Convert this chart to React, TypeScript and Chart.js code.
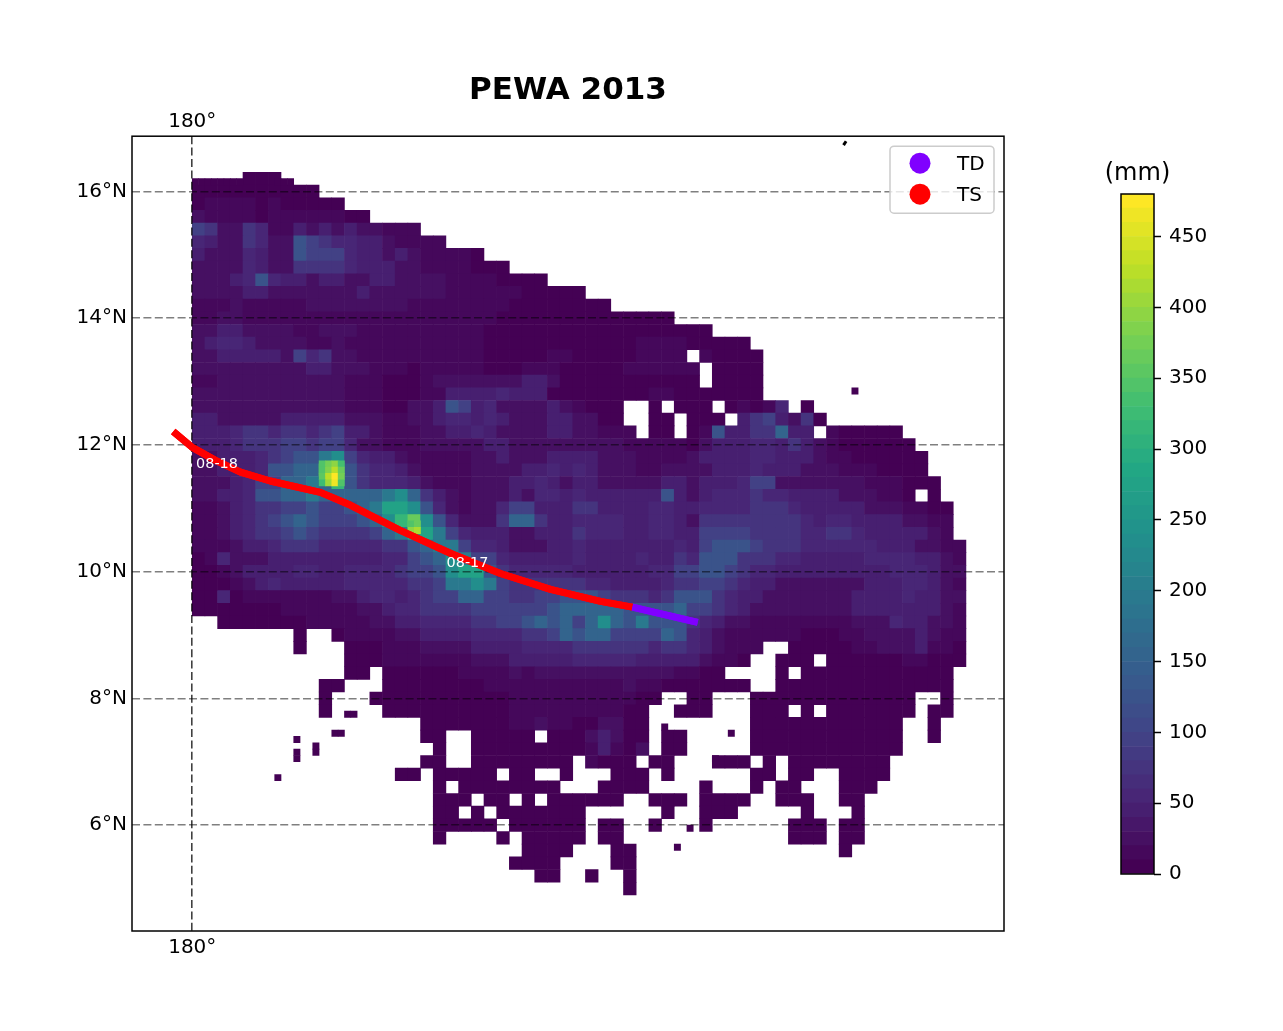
import React, { useEffect, useRef } from "react";
import { Chart, registerables } from "chart.js";

Chart.register(...registerables);

const FONT = "'DejaVu Sans'";
const TITLE = "PEWA 2013";
const UNIT = "(mm)";
const LON_MIN = 179.05;
const LON_MAX = 192.8;
const LAT_MIN = 4.33;
const LAT_MAX = 16.87;
const lonTicks = [180];
const latTicks = [6, 8, 10, 12, 14, 16];
const barTicks = [0, 50, 100, 150, 200, 250, 300, 350, 400, 450];
const barLevels = [0, 10, 20, 30, 40, 50, 60, 70, 80, 90, 100, 110, 120, 130, 140, 150, 160, 170, 180, 190, 200, 210, 220, 230, 240, 250, 260, 270, 280, 290, 300, 310, 320, 330, 340, 350, 360, 370, 380, 390, 400, 410, 420, 430, 440, 450, 460, 470, 480];
const viridisStops = ["#440154", "#482475", "#414487", "#355f8d", "#2a788e", "#21918c", "#22a884", "#44bf70", "#7ad151", "#bddf26", "#fde725"];

// rainfall classes used by the cell letters of gridRows (mm)
const classValues: Record<string, number> = { "0": 5, "1": 15, "2": 28, "3": 42, "4": 58, "5": 75, "6": 95, "7": 120, "8": 150, "9": 190, a: 230, b: 270, c: 310, d: 360, e: 410, f: 470 };

// cells of 0.2 degrees, first row centred on 16.2N, first column on 180.1E; "." = no data
const gridRows = [
  "....000...",
  "0000000000",
  "0111101000 00",
  "2111101111 1100",
  "6522541132 32322111",
  "4322542276 5443321111",
  "3222432276 6643323211 110",
  "2222432255 5543332211 11000",
  "2223474332 3322332222 11110000",
  "2222332222 2223222222 1111110000 0",
  "1112111112 2222222111 1111100000 000",
  "1122111111 1111111111 1111000000 00000000",
  "2233222211 2221111111 1110000000 0000000000 0",
  "2344322221 1211111111 1110000000 0000011110 0000",
  "2233333264 5221111111 1110000011 000001111. 10000",
  "2222222223 3222111011 1110001110 0000111111 .0000",
  "1122222222 2211100012 2222223320 0000000000 .0000",
  "2222222222 2211100011 3333433300 0000001100 00000",
  "2222222222 2211100223 7634222232 1000..0.00 0.01014.0",
  "3322222333 3322211223 4434322233 2200..00.0 00.3563250",
  "3334554554 5633211122 3343222233 22111.00.0 173355833. 100000",
  "3334555665 6642211122 2223322222 2222111110 2333443532 1000000",
  "2233345677 9a64332111 1122322233 3322211112 3333443332 11000000",
  "2233347788 dd75443211 1122223343 4322211222 2333433322 21110000",
  "2223466889 8c75444321 1122233432 3322222332 3334662222 222111000",
  "2233477889 888889a853 2122232443 4333333732 3444544333 3222110.0",
  "1123455667 66789bba74 2122466333 5533334433 4444555433 3332221100",
  "1123456787 66678acda7 4222588533 4444334432 5555555543 4433332211",
  "1123455676 5555689bb9 6433322333 5444334433 6666555544 5543333321",
  "1112334555 4444455789 9644322233 4333333343 6777655544 44443332211",
  "0142223333 3333344678 a966433333 4333343354 7775554433 33344443321",
  "0012333344 3344445667 abb7544444 3333334466 7765443333 33333444322",
  "0001234333 3344444556 99a9655555 5443333455 6654332222 22233344321",
  "0040111111 1223443456 6886655667 7765554577 7543322222 22333343322",
  "0000000111 1112234455 5566666678 8888777786 6543222222 22333333321",
  "..00000001 1111223344 4455667878 68a8797775 4322111111 11222433221",
  "........0. .011112233 3344445568 7886666874 3211111100 01122223211",
  "........0. ..00011122 2233334444 5555554554 32111..000 00112223110",
  ".......... ..00011111 1122233333 4444433333 2110..000. 00000011000",
  ".......... ..00.00000 0111121222 2222222211 00....0.00 0000000000",
  ".......... 00...00000 0001111111 1111211000 0000..0000 0000000000",
  ".......... 0...000000 0000011111 1111100..0 0...000000 0000000..0",
  ".......... 0....00000 0000011111 111100..00 0...000.0. 0000000.00",
  ".......... ........00 0000011211 002200.... ....000000 000000..0.",
  ".......... ........00 ..00000.00 023200.00. ....000000 000000..0.",
  ".......... .........0 ..00000000 013102.00. ....000000 000000",
  ".......... ........00 ..00000000 .1000.00.. .000.0.000 00000",
  ".......... ......00.0 0000.00..0 ...000.0.. ....00.00. .0000",
  ".......... .........0 .00000000. ..0000.... 0...0.00.. .000",
  ".......... .........0 00.00.0.00 0000..000. 0000..000. .00",
  ".......... .........0 0.0.000000 0......0.. 000.....0. ..0",
  ".......... .........0 0000.00000 0.00..0... 0......000 .00",
  ".......... .........0 ....0.0000 0.00...... .......000 .00",
  ".......... .......... ......0000 ...00..... .......... .0",
  ".......... .......... .....0000. ...00.....",
  ".......... .......... .......00. .0..0.....",
  ".......... .......... .......... ....0.....",
];

// finer 0.1-degree readings at the two rainfall peaks and small isolated patches: [lon, lat, mm]
const fineCells = [
  [182.05, 11.7, 340], [182.15, 11.7, 370], [182.25, 11.7, 390], [182.35, 11.7, 330],
  [182.05, 11.6, 340], [182.15, 11.6, 380], [182.25, 11.6, 420], [182.35, 11.6, 360],
  [182.05, 11.5, 350], [182.15, 11.5, 420], [182.25, 11.5, 470], [182.35, 11.5, 370],
  [182.05, 11.4, 320], [182.15, 11.4, 400], [182.25, 11.4, 460], [182.35, 11.4, 340],
  [183.45, 10.75, 340], [183.55, 10.75, 360], [183.45, 10.65, 390], [183.55, 10.65, 410],
  [181.35, 6.75, 5], [181.65, 7.35, 5], [181.65, 7.15, 5], [181.65, 7.05, 5],
  [181.95, 7.25, 5], [181.95, 7.15, 5], [182.25, 7.45, 5], [182.35, 7.45, 5],
  [182.45, 7.75, 5], [182.55, 7.75, 5], [190.45, 12.85, 5], [188.5, 7.45, 5],
  [187.45, 7.55, 5], [187.65, 5.65, 5], [187.85, 5.95, 5], [188.25, 7.05, 5],
  [180.05, 16.15, 5], [180.15, 16.15, 5], [180.25, 16.15, 5], [180.35, 16.15, 5],
  [180.45, 16.15, 5], [180.55, 16.15, 5], [180.65, 16.15, 5], [180.75, 16.15, 5],
  [181.35, 16.15, 5], [181.45, 16.15, 5], [181.55, 16.15, 5],
];

const tsLon = [179.7, 180.0, 180.36, 180.76, 181.23, 182.02, 182.49, 183.28, 184.07, 184.86, 185.65, 186.44, 186.94];
const tsLat = [12.21, 11.96, 11.76, 11.57, 11.43, 11.25, 11.05, 10.65, 10.29, 9.97, 9.72, 9.53, 9.44];
const tdLon = [186.94, 187.97];
const tdLat = [9.44, 9.2];
const coastLon = [190.27, 190.31];
const coastLat = [16.73, 16.79];
const dateLabels = ["08-18", "08-17"];
const dateLon = [180.39, 184.34];
const dateLat = [11.69, 10.13];
const legendLabels = ["TD", "TS"];
const legendColors = ["#8000ff", "#ff0000"];

function hexToRgb(h: string) {
  return [parseInt(h.slice(1, 3), 16), parseInt(h.slice(3, 5), 16), parseInt(h.slice(5, 7), 16)];
}
function viridis(t: number) {
  const p = Math.max(0, Math.min(1, t)) * (viridisStops.length - 1);
  const i = Math.min(Math.floor(p), viridisStops.length - 2);
  const a = hexToRgb(viridisStops[i]);
  const b = hexToRgb(viridisStops[i + 1]);
  const f = p - i;
  return `rgb(${a.map((v, k) => Math.round(v + (b[k] - v) * f)).join(",")})`;
}
function bandColor(mm: number) {
  const band = Math.min(47, Math.floor(mm / 10));
  return viridis(band / 47);
}

const cells: { x: number; y: number; v: number }[] = [];
gridRows.forEach((row, r) => {
  row.replace(/ /g, "").split("").forEach((ch, c) => {
    if (ch !== ".") cells.push({ x: 180.1 + 0.2 * c, y: 16.2 - 0.2 * r, v: classValues[ch] });
  });
});
const fine = fineCells.map(([x, y, v]) => ({ x, y, v }));
const zip = (xs: number[], ys: number[]) => xs.map((x, i) => ({ x, y: ys[i] }));

const cellRadius = (deg: number) => (ctx: any) => {
  const s = ctx.chart.scales.x;
  const side = Math.abs(s.getPixelForValue(180 + deg) - s.getPixelForValue(180));
  return (side / 2 + 0.3) / Math.SQRT1_2;
};

const fitWidth = (w: number) => (s: any) => { s.width = w; };
const fitHeight = (h: number) => (s: any) => { s.height = h; };

const framePlugin = {
  id: "frame",
  afterDraw(chart: any) {
    const { ctx, chartArea: a } = chart;
    ctx.save();
    ctx.beginPath();
    ctx.rect(a.left, a.top, a.right - a.left, a.bottom - a.top);
    ctx.clip();
    chart.data.datasets.forEach((d: any, i: number) => {
      if (d.onTop) chart.getDatasetMeta(i).controller.draw();
    });
    ctx.restore();
    const xs = chart.scales.x;
    const ys = chart.scales.y;
    ctx.save();
    ctx.fillStyle = "#ffffff";
    ctx.font = `14.4px ${FONT}`;
    ctx.textAlign = "center";
    ctx.textBaseline = "middle";
    dateLabels.forEach((t, i) => ctx.fillText(t, xs.getPixelForValue(dateLon[i]), ys.getPixelForValue(dateLat[i])));
    ctx.restore();
    // legend box
    ctx.save();
    const lx = a.right - 114, ly = a.top + 10, lw = 104, lh = 67;
    ctx.beginPath();
    ctx.roundRect(lx, ly, lw, lh, 4);
    ctx.fillStyle = "rgba(255,255,255,0.8)";
    ctx.fill();
    ctx.strokeStyle = "#cccccc";
    ctx.lineWidth = 1.5;
    ctx.stroke();
    legendLabels.forEach((t, i) => {
      const cy = ly + 17 + i * 31;
      ctx.beginPath();
      ctx.arc(lx + 30, cy, 10.5, 0, Math.PI * 2);
      ctx.fillStyle = legendColors[i];
      ctx.fill();
      ctx.fillStyle = "#000000";
      ctx.font = `20px ${FONT}`;
      ctx.textAlign = "left";
      ctx.textBaseline = "middle";
      ctx.fillText(t, lx + 67, cy + 2);
    });
    ctx.restore();
    ctx.save();
    ctx.strokeStyle = "#000000";
    ctx.lineWidth = 1.5;
    ctx.strokeRect(a.left, a.top, a.right - a.left, a.bottom - a.top);
    ctx.restore();
  },
};

const barFramePlugin = {
  id: "barFrame",
  afterDraw(chart: any) {
    const { ctx, chartArea: a } = chart;
    ctx.save();
    ctx.strokeStyle = "#000000";
    ctx.lineWidth = 1.5;
    ctx.strokeRect(a.left, a.top, a.right - a.left, a.bottom - a.top);
    ctx.fillStyle = "#000000";
    ctx.font = `24px ${FONT}`;
    ctx.textAlign = "center";
    ctx.textBaseline = "middle";
    ctx.fillText(UNIT, (a.left + a.right) / 2, a.top - 20);
    ctx.restore();
  },
};

export default function App() {
  const mainRef = useRef<HTMLCanvasElement>(null);
  const barRef = useRef<HTMLCanvasElement>(null);

  useEffect(() => {
    const tickFont = { family: FONT, size: 20 };
    const main = new Chart(mainRef.current!, {
      type: "scatter",
      data: {
        datasets: [
          { label: "TS", data: zip(tsLon, tsLat), showLine: true, borderColor: legendColors[1], borderWidth: 7, pointRadius: 0, order: 0, onTop: true, borderCapStyle: "butt", borderJoinStyle: "round" },
          { label: "TD", data: zip(tdLon, tdLat), showLine: true, borderColor: legendColors[0], borderWidth: 7, pointRadius: 0, order: 0, onTop: true, borderCapStyle: "butt" },
          { label: "coast", data: zip(coastLon, coastLat), showLine: true, borderColor: "#000000", borderWidth: 3, pointRadius: 0, order: 0 },
          { label: "fine", data: fine, pointStyle: "rect", pointRadius: cellRadius(0.1), pointBorderWidth: 0, borderWidth: 0, backgroundColor: (c: any) => bandColor(c.raw?.v ?? 0), order: 1 },
          { label: "rain", data: cells, pointStyle: "rect", pointRadius: cellRadius(0.2), pointBorderWidth: 0, borderWidth: 0, backgroundColor: (c: any) => bandColor(c.raw?.v ?? 0), order: 2 },
        ] as any,
      },
      options: {
        responsive: false,
        animation: false,
        events: [],
        layout: { padding: { left: 0, right: 279, top: 72, bottom: 60 } },
        plugins: {
          legend: { display: false },
          tooltip: { enabled: false },
          title: { display: true, text: TITLE, fullSize: false, color: "#000000", font: { family: FONT, size: 31, weight: "bold" }, padding: 0, align: "center" },
        },
        scales: {
          x: {
            type: "linear", min: LON_MIN, max: LON_MAX,
            afterBuildTicks: (s: any) => { s.ticks = lonTicks.map((value) => ({ value })); },
            afterFit: fitHeight(40),
            grid: { color: "rgba(0,0,0,0.75)", lineWidth: 1.6, z: 1, drawTicks: false },
            border: { display: false, dash: [8, 3.4] },
            ticks: { font: tickFont, color: "#000000", padding: 5, maxRotation: 0, autoSkip: false, callback: (v: any) => `${v}°` },
          },
          xTop: {
            type: "linear", position: "top", min: LON_MIN, max: LON_MAX,
            afterBuildTicks: (s: any) => { s.ticks = lonTicks.map((value) => ({ value })); },
            afterFit: fitHeight(27),
            grid: { display: false, drawTicks: false },
            border: { display: false },
            ticks: { font: tickFont, color: "#000000", padding: 2, maxRotation: 0, autoSkip: false, callback: (v: any) => `${v}°` },
          },
          y: {
            type: "linear", min: LAT_MIN, max: LAT_MAX,
            afterBuildTicks: (s: any) => { s.ticks = latTicks.map((value) => ({ value })); },
            afterFit: fitWidth(132),
            grid: { color: "rgba(0,0,0,0.5)", lineWidth: 1.6, z: 1, drawTicks: false },
            border: { display: false, dash: [8, 3.4] },
            ticks: { font: tickFont, color: "#000000", padding: 5, autoSkip: false, callback: (v: any) => `${v}°N` },
          },
        },
      } as any,
      plugins: [framePlugin],
    });

    const barData = barLevels.slice(0, -1).map((lo, i) => ({
      data: [[lo, barLevels[i + 1]]],
      backgroundColor: viridis(i / (barLevels.length - 2)),
      borderWidth: 0,
      barPercentage: 1,
      categoryPercentage: 1,
      grouped: false,
    }));
    const bar = new Chart(barRef.current!, {
      type: "bar",
      data: { labels: [""], datasets: barData as any },
      options: {
        responsive: false,
        animation: false,
        events: [],
        layout: { padding: { left: 31, right: 0, top: 44, bottom: 0 } },
        plugins: {
          legend: { display: false },
          tooltip: { enabled: false },
          title: { display: false },
        },
        scales: {
          x: { display: false },
          y: {
            type: "linear", position: "right", min: 0, max: 480,
            afterBuildTicks: (s: any) => { s.ticks = barTicks.map((value) => ({ value })); },
            afterFit: fitWidth(86),
            grid: { display: true, drawOnChartArea: false, drawTicks: true, tickLength: 7, tickColor: "#000000", tickWidth: 1.5 },
            border: { display: false },
            ticks: { font: tickFont, color: "#000000", padding: 8, autoSkip: false },
          },
        },
      } as any,
      plugins: [barFramePlugin],
    });

    return () => {
      main.destroy();
      bar.destroy();
    };
  }, []);

  return (
    <div style={{ position: "absolute", left: 0, top: 0, width: 1283, height: 1031, overflow: "hidden", background: "#ffffff" }}>
      <canvas ref={mainRef} width={1283} height={1031} style={{ position: "absolute", left: 0, top: 0 }} />
      <canvas ref={barRef} width={150} height={744} style={{ position: "absolute", left: 1090, top: 150 }} />
    </div>
  );
}
